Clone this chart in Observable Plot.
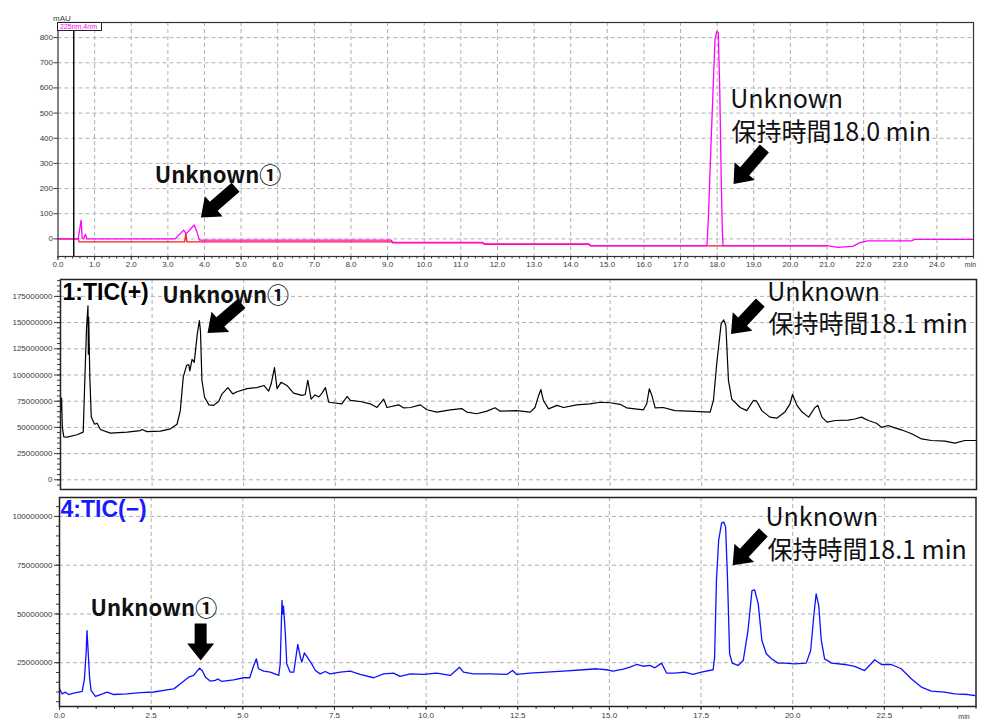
<!DOCTYPE html>
<html>
<head>
<meta charset="utf-8">
<script src="https://cdn.jsdelivr.net/npm/d3@7"></script>
<script src="https://cdn.jsdelivr.net/npm/@observablehq/plot@0.6"></script>
<style>
  body { margin: 0; background: #fff; }
  #chart { position: relative; width: 983px; height: 721px; overflow: hidden; background: #fff; font-family: "Liberation Sans", Arial, sans-serif; }
  #chart svg { position: absolute; left: 0; overflow: visible; background: transparent !important; }
  #legendbox { position: absolute; left: 57px; top: 22px; width: 45px; height: 9px; border: 1px solid #222; box-sizing: border-box;
    font: 7px "Liberation Sans", Arial, sans-serif; color: #ff00ff; line-height: 8px; padding-left: 2px; white-space: nowrap; background: #fff; }
</style>
</head>
<body>
<div id="chart"></div>
<script>
// ================= DATA =================
// Panel 1 : UV 225nm (mAU)
const uvMagentaTime  = [0, 0.55, 0.6, 0.63, 0.66, 0.7, 0.75, 0.79, 0.85, 3.2, 3.43, 3.5, 3.72, 3.79, 3.86, 9.1, 9.15, 11.6, 11.65, 14.5, 14.55, 17.72, 17.76, 17.82, 17.88, 17.94, 17.99, 18.03, 18.07, 18.11, 18.14, 18.16, 21.0, 21.3, 21.7, 21.9, 22.1, 23.3, 23.4, 25];
const uvMagentaValue = [0, 0, 45, 74, 5, 0, 18, 0, 0, 0, 35, 20, 55, 30, -5, -5, -14, -14, -20, -20, -27, -27, 80, 330, 560, 790, 825, 820, 600, 250, 40, -27, -27, -34, -30, -15, -8, -8, -2, -2];
const uvRedTime  = [0, 0.55, 0.58, 3.46, 3.49, 3.52, 9.1, 9.15, 11.6, 11.65, 14.5, 14.55, 21.0];
const uvRedValue = [0, 0, -12, -12, 22, -12, -12, -16, -16, -22, -22, -28, -28];
const uvMarkerTime = [0.43];
const uvYTicks = [0, 100, 200, 300, 400, 500, 600, 700, 800];
const uvYTickLabels = ["0", "100", "200", "300", "400", "500", "600", "700", "800"];
const uvXTicks = [0, 1, 2, 3, 4, 5, 6, 7, 8, 9, 10, 11, 12, 13, 14, 15, 16, 17, 18, 19, 20, 21, 22, 23, 24];
const uvXTickLabels = ["0.0", "1.0", "2.0", "3.0", "4.0", "5.0", "6.0", "7.0", "8.0", "9.0", "10.0", "11.0", "12.0", "13.0", "14.0", "15.0", "16.0", "17.0", "18.0", "19.0", "20.0", "21.0", "22.0", "23.0", "24.0"];
const uvLegend = "225nm,4nm";
const uvUnit = "mAU";
const uvNotes = [
  {t: 2.64, v: 249, text: "Unknown①", bold: true},
  {t: 18.36, v: 552, text: "Unknown", bold: false},
  {t: 18.39, v: 422, text: "保持時間18.0 min", bold: false}
];
const uvArrows = [
  {t: 4.85, v: 205, len: 46, rot: 229},
  {t: 19.29, v: 359, len: 47, rot: 221}
];

// Panel 2 : 1:TIC(+)  (values in millions)
const ticPosTime = [0, 0.03, 0.05, 0.09, 0.18, 0.45, 0.62, 0.65, 0.71, 0.75, 0.76, 0.77, 0.8, 0.84, 0.93, 1.0, 1.09, 1.36, 1.82, 2.18, 2.23, 2.36, 2.73, 3.0, 3.18, 3.27, 3.35, 3.44, 3.5, 3.53, 3.59, 3.65, 3.73, 3.79, 3.82, 3.86, 3.93, 4.05, 4.18, 4.32, 4.41, 4.57, 4.7, 4.82, 5.09, 5.36, 5.55, 5.68, 5.75, 5.84, 5.91, 6.02, 6.18, 6.36, 6.59, 6.68, 6.75, 6.84, 6.95, 7.05, 7.14, 7.23, 7.32, 7.68, 7.82, 7.91, 8.18, 8.45, 8.64, 8.82, 8.91, 9.23, 9.36, 9.55, 9.82, 10.0, 10.27, 10.64, 10.95, 11.09, 11.36, 11.64, 11.86, 12.0, 12.45, 12.82, 12.95, 13.05, 13.11, 13.18, 13.32, 13.55, 13.73, 14.09, 14.45, 14.73, 15.0, 15.27, 15.45, 15.91, 16.0, 16.07, 16.14, 16.23, 16.45, 16.77, 17.14, 17.73, 17.82, 17.91, 18.03, 18.1, 18.16, 18.23, 18.32, 18.55, 18.73, 18.91, 19.0, 19.14, 19.36, 19.55, 19.77, 19.91, 19.98, 20.1, 20.24, 20.42, 20.59, 20.67, 20.78, 20.92, 21.15, 21.5, 21.68, 21.86, 22.05, 22.27, 22.41, 22.59, 22.73, 22.95, 23.23, 23.5, 23.77, 24.14, 24.41, 24.68, 24.98];
const ticPosValue = [64.6, 78, 50, 41, 40.7, 43, 45.5, 80, 145, 166, 120, 155, 98, 60, 53, 54, 48, 44.5, 45.5, 47, 48, 46, 46.4, 48.6, 53, 66, 98, 109, 110, 104, 115, 112, 138, 152, 142, 95, 79, 71.5, 71, 75, 82, 88, 82, 84, 87, 88, 90, 84.6, 91.6, 107, 87, 93, 90, 82.7, 80.5, 81.4, 95, 77, 81, 79, 83, 88, 74, 72.5, 79.5, 75.7, 74.7, 72.5, 69, 77, 69, 71.5, 68.7, 69, 71.5, 66.8, 64.6, 66.8, 68, 64.6, 63, 65.5, 68.7, 65.5, 66, 64.6, 69, 80.5, 86, 75.7, 67.7, 71, 69, 71.5, 72.5, 74, 73.5, 72, 68.7, 66.8, 72.5, 86.8, 80.5, 68.7, 69, 66, 65.5, 64.6, 75.7, 110.7, 148.8, 152.6, 147, 94.8, 77, 69, 66, 75.7, 75, 66, 59.8, 58.8, 64.6, 72.5, 81.4, 71, 64.6, 59.8, 69, 71, 59.8, 55, 56.6, 57, 58, 59.8, 56.6, 54, 50, 51.8, 50, 47.7, 43.9, 39, 37.5, 36.9, 35, 37.5, 37.5];
const ticPosYTicks = [0, 25, 50, 75, 100, 125, 150, 175];
const ticPosYTickLabels = ["0", "25000000", "50000000", "75000000", "100000000", "125000000", "150000000", "175000000"];
const ticPosTitle = "1:TIC(+)";
const ticPosNotes = [
  {t: 2.78, v: 175.3, text: "Unknown①", bold: true},
  {t: 19.29, v: 178.5, text: "Unknown", bold: false},
  {t: 19.32, v: 147.3, text: "保持時間18.1 min", bold: false}
];
const ticPosArrows = [
  {t: 4.94, v: 168.2, len: 45, rot: 229},
  {t: 19.1, v: 169.1, len: 43, rot: 223}
];

// Panel 3 : 4:TIC(-)  (values in millions)
const ticNegTime = [0, 0.07, 0.16, 0.25, 0.39, 0.62, 0.68, 0.73, 0.75, 0.78, 0.82, 0.86, 0.98, 1.12, 1.3, 1.48, 1.84, 2.21, 2.57, 2.93, 3.12, 3.3, 3.52, 3.66, 3.82, 3.89, 3.98, 4.11, 4.25, 4.31, 4.43, 4.75, 5.02, 5.19, 5.28, 5.37, 5.43, 5.57, 5.75, 5.98, 6.02, 6.07, 6.09, 6.11, 6.16, 6.2, 6.29, 6.39, 6.5, 6.57, 6.61, 6.68, 6.79, 6.88, 6.98, 7.11, 7.25, 7.38, 7.66, 7.93, 8.2, 8.57, 8.84, 9.11, 9.29, 9.57, 9.93, 10.29, 10.66, 10.91, 11.02, 11.29, 11.74, 12.2, 12.36, 12.47, 12.83, 13.29, 13.74, 14.29, 14.65, 14.92, 15.1, 15.38, 15.56, 15.74, 15.92, 16.1, 16.24, 16.42, 16.56, 16.78, 17.05, 17.28, 17.51, 17.83, 17.87, 17.92, 17.98, 18.06, 18.12, 18.17, 18.22, 18.28, 18.35, 18.51, 18.65, 18.78, 18.89, 18.96, 19.06, 19.16, 19.28, 19.42, 19.6, 19.78, 20.05, 20.37, 20.49, 20.58, 20.64, 20.71, 20.78, 20.87, 21.06, 21.42, 21.69, 21.96, 22.12, 22.23, 22.42, 22.69, 22.96, 23.24, 23.51, 23.78, 24.14, 24.42, 24.78, 24.96];
const ticNegValue = [11.6, 9, 9.9, 8.7, 9.4, 10.3, 16.7, 31.3, 41.5, 31.3, 17.6, 10.8, 7.7, 8.7, 9.9, 8.7, 9, 9.7, 10, 11.1, 11.6, 14.2, 17.6, 18.5, 22.2, 21, 17.6, 15.6, 15.9, 16.7, 15.4, 16.2, 17.3, 17.3, 22.7, 27, 21.9, 20.7, 20.2, 18.5, 24.4, 57, 50, 54, 40, 24.4, 20.2, 20.2, 34.4, 27.9, 25.3, 30, 27, 24.4, 21, 19.3, 20.5, 19.3, 20.2, 20.7, 19, 17.3, 19.3, 19.7, 18, 19.3, 19, 19.7, 18.5, 22.7, 20.2, 19.3, 19.3, 19, 21, 19, 19.7, 20.2, 20.7, 21.4, 21.9, 21.4, 20.7, 21.7, 22.7, 24.1, 23.2, 23.6, 22.4, 24.8, 19.7, 19.7, 20.2, 19, 20.2, 21.4, 27.9, 67.2, 87.7, 96.6, 97.1, 94.5, 68.9, 29.6, 24.8, 23.6, 26.1, 41.5, 62, 62.4, 55.2, 36.4, 29.6, 27, 24.8, 24.8, 24.4, 24.8, 31.3, 50, 60.3, 54.3, 36.4, 27, 24.8, 24.1, 23.1, 21, 24.1, 26.5, 24.1, 24.1, 21.9, 16.7, 12.5, 10.4, 9.9, 9, 8.7, 8.2];
const ticNegYTicks = [25, 50, 75, 100];
const ticNegYTickLabels = ["25000000", "50000000", "75000000", "100000000"];
const ticXTicks = [0, 2.5, 5, 7.5, 10, 12.5, 15, 17.5, 20, 22.5];
const ticXTickLabels = ["0.0", "2.5", "5.0", "7.5", "10.0", "12.5", "15.0", "17.5", "20.0", "22.5"];
const ticNegTitle = "4:TIC(\u2212)";
const ticNegNotes = [
  {t: 0.846, v: 52.8, text: "Unknown①", bold: true},
  {t: 19.26, v: 99.2, text: "Unknown", bold: false},
  {t: 19.31, v: 82.5, text: "保持時間18.1 min", bold: false}
];
const ticNegArrows = [
  {t: 3.85, v: 45.1, len: 37, rot: 180},
  {t: 19.2, v: 91.8, len: 45, rot: 223}
];
const timeUnit = "min";

// ================= HELPERS =================
const zip = (ts, vs) => ts.map((t, i) => ({t, v: vs[i]}));
const labeler = (ticks, labels) => d => labels[ticks.indexOf(d)] ?? "";
const blank = () => "";
const gridStyle = {stroke: "#b0b0b0", strokeOpacity: 1, strokeDasharray: "4,3", strokeWidth: 1};
const axisFont = {fontSize: 8, color: "#3a3a3a"};
const noteFont = "'Noto Sans CJK JP', 'Noto Sans', sans-serif";

const blockArrow = {
  draw(context, l) {
    const sw = 6, hw = 13.5, hl = 17;
    context.moveTo(-sw, 0);
    context.lineTo(-sw, hl - l);
    context.lineTo(-hw, hl - l);
    context.lineTo(0, -l);
    context.lineTo(hw, hl - l);
    context.lineTo(sw, hl - l);
    context.lineTo(sw, 0);
    context.closePath();
  }
};

function noteMarks(notes, arrows) {
  return [
    Plot.text(notes.filter(d => d.bold), {x: "t", y: "v", text: "text", textAnchor: "start", lineAnchor: "middle",
      fontFamily: noteFont, fontWeight: "bold", fontSize: 22, fill: "#111"}),
    Plot.text(notes.filter(d => !d.bold), {x: "t", y: "v", text: "text", textAnchor: "start", lineAnchor: "middle",
      fontFamily: noteFont, fontSize: 25, fill: "#111"}),
    Plot.vector(arrows, {x: "t", y: "v", length: "len", rotate: "rot", anchor: "start", shape: blockArrow,
      fill: "#000", stroke: "none"})
  ];
}

const chart = document.getElementById("chart");
function place(svg, top) {
  svg.style.position = "absolute";
  svg.style.top = top + "px";
  svg.style.left = "0px";
  svg.style.background = "transparent";
  svg.style.overflow = "visible";
  chart.appendChild(svg);
}

// ================= PANEL 1 =================
const p1 = Plot.plot({
  width: 983, height: 272,
  marginLeft: 57.5, marginRight: 10, marginTop: 22, marginBottom: 16,
  style: {fontFamily: "'Liberation Sans', Arial, sans-serif", background: "transparent", overflow: "visible"},
  x: {domain: [0, 25], axis: null, label: null},
  y: {domain: [-70, 860], axis: null, label: null},
  length: {type: "identity"},
  marks: [
    Plot.gridX(uvXTicks.filter(d => d > 0), gridStyle),
    Plot.gridY(uvYTicks, gridStyle),
    Plot.axisY({ticks: uvYTicks, tickFormat: labeler(uvYTicks, uvYTickLabels), tickSize: 4, tickPadding: 1, ...axisFont}),
    Plot.axisX({ticks: uvXTicks, tickFormat: labeler(uvXTicks, uvXTickLabels), tickSize: 4, tickPadding: 1, ...axisFont}),
    Plot.axisX({ticks: d3.range(0, 25.001, 0.2), tickFormat: blank, tickSize: 2.5, color: "#3a3a3a"}),
    Plot.text([uvUnit], {frameAnchor: "top-left", dx: 4, dy: -7, textAnchor: "middle", fontSize: 8, fill: "#3a3a3a"}),
    Plot.text([timeUnit], {frameAnchor: "bottom-right", dx: -3, dy: 10, textAnchor: "middle", fontSize: 7, fill: "#3a3a3a"}),
    Plot.line(zip(uvRedTime, uvRedValue), {x: "t", y: "v", stroke: "#ff1a1a", strokeWidth: 1.3}),
    Plot.line(zip(uvMagentaTime, uvMagentaValue), {x: "t", y: "v", stroke: "#ff00ff", strokeWidth: 1.3}),
    Plot.ruleX(uvMarkerTime, {stroke: "#000", strokeWidth: 1.4}),
    Plot.frame({stroke: "#333", strokeWidth: 1.2}),
    ...noteMarks(uvNotes, uvArrows)
  ]
});
place(p1, 0);
const lg = document.createElement("div");
lg.id = "legendbox";
lg.textContent = uvLegend;
chart.appendChild(lg);

// ================= PANEL 2 =================
const p2 = Plot.plot({
  width: 983, height: 218,
  marginLeft: 60, marginRight: 7, marginTop: 7, marginBottom: 1,
  style: {fontFamily: "'Liberation Sans', Arial, sans-serif", background: "transparent", overflow: "visible"},
  x: {domain: [0, 25], axis: null, label: null},
  y: {domain: [-9.25, 191.1], axis: null, label: null},
  length: {type: "identity"},
  marks: [
    Plot.gridX(ticXTicks.filter(d => d > 0), gridStyle),
    Plot.gridY(ticPosYTicks, gridStyle),
    Plot.axisY({ticks: ticPosYTicks, tickFormat: labeler(ticPosYTicks, ticPosYTickLabels), tickSize: 6, tickPadding: 2, ...axisFont}),
    Plot.axisY({ticks: d3.range(-5, 191, 5), tickFormat: blank, tickSize: 3, color: "#3a3a3a"}),
    Plot.line(zip(ticPosTime, ticPosValue), {x: "t", y: "v", stroke: "#000", strokeWidth: 1.2}),
    Plot.frame({stroke: "#222", strokeWidth: 1.5}),
    Plot.text([ticPosTitle], {frameAnchor: "top-left", dx: 2, dy: 13, textAnchor: "start", lineAnchor: "middle",
      fontFamily: "'Liberation Sans', Arial, sans-serif", fontWeight: "bold", fontSize: 23, fill: "#000"}),
    ...noteMarks(ticPosNotes, ticPosArrows)
  ]
});
place(p2, 272);

// ================= PANEL 3 =================
const p3 = Plot.plot({
  width: 983, height: 231,
  marginLeft: 59, marginRight: 7.5, marginTop: 7, marginBottom: 15,
  style: {fontFamily: "'Liberation Sans', Arial, sans-serif", background: "transparent", overflow: "visible"},
  x: {domain: [0, 25], axis: null, label: null},
  y: {domain: [2.56, 109.7], axis: null, label: null},
  length: {type: "identity"},
  marks: [
    Plot.gridX(ticXTicks.filter(d => d > 0), gridStyle),
    Plot.gridY(ticNegYTicks, gridStyle),
    Plot.axisY({ticks: ticNegYTicks, tickFormat: labeler(ticNegYTicks, ticNegYTickLabels), tickSize: 5, tickPadding: 2, ...axisFont}),
    Plot.axisY({ticks: d3.range(5, 109, 5), tickFormat: blank, tickSize: 3, color: "#3a3a3a"}),
    Plot.axisX({ticks: ticXTicks, tickFormat: labeler(ticXTicks, ticXTickLabels), tickSize: 4, tickPadding: 2, ...axisFont}),
    Plot.axisX({ticks: d3.range(0, 25.001, 0.5), tickFormat: blank, tickSize: 3, color: "#3a3a3a"}),
    Plot.text([timeUnit], {frameAnchor: "bottom-right", dx: -12, dy: 12, textAnchor: "middle", fontSize: 7, fill: "#3a3a3a"}),
    Plot.line(zip(ticNegTime, ticNegValue), {x: "t", y: "v", stroke: "#1010ff", strokeWidth: 1.3}),
    Plot.frame({stroke: "#222", strokeWidth: 1.5}),
    Plot.text([ticNegTitle], {frameAnchor: "top-left", dx: 1, dy: 12, textAnchor: "start", lineAnchor: "middle",
      fontFamily: "'Liberation Sans', Arial, sans-serif", fontWeight: "bold", fontSize: 23, fill: "#1a1aff"}),
    ...noteMarks(ticNegNotes, ticNegArrows)
  ]
});
place(p3, 490);
</script>
</body>
</html>
